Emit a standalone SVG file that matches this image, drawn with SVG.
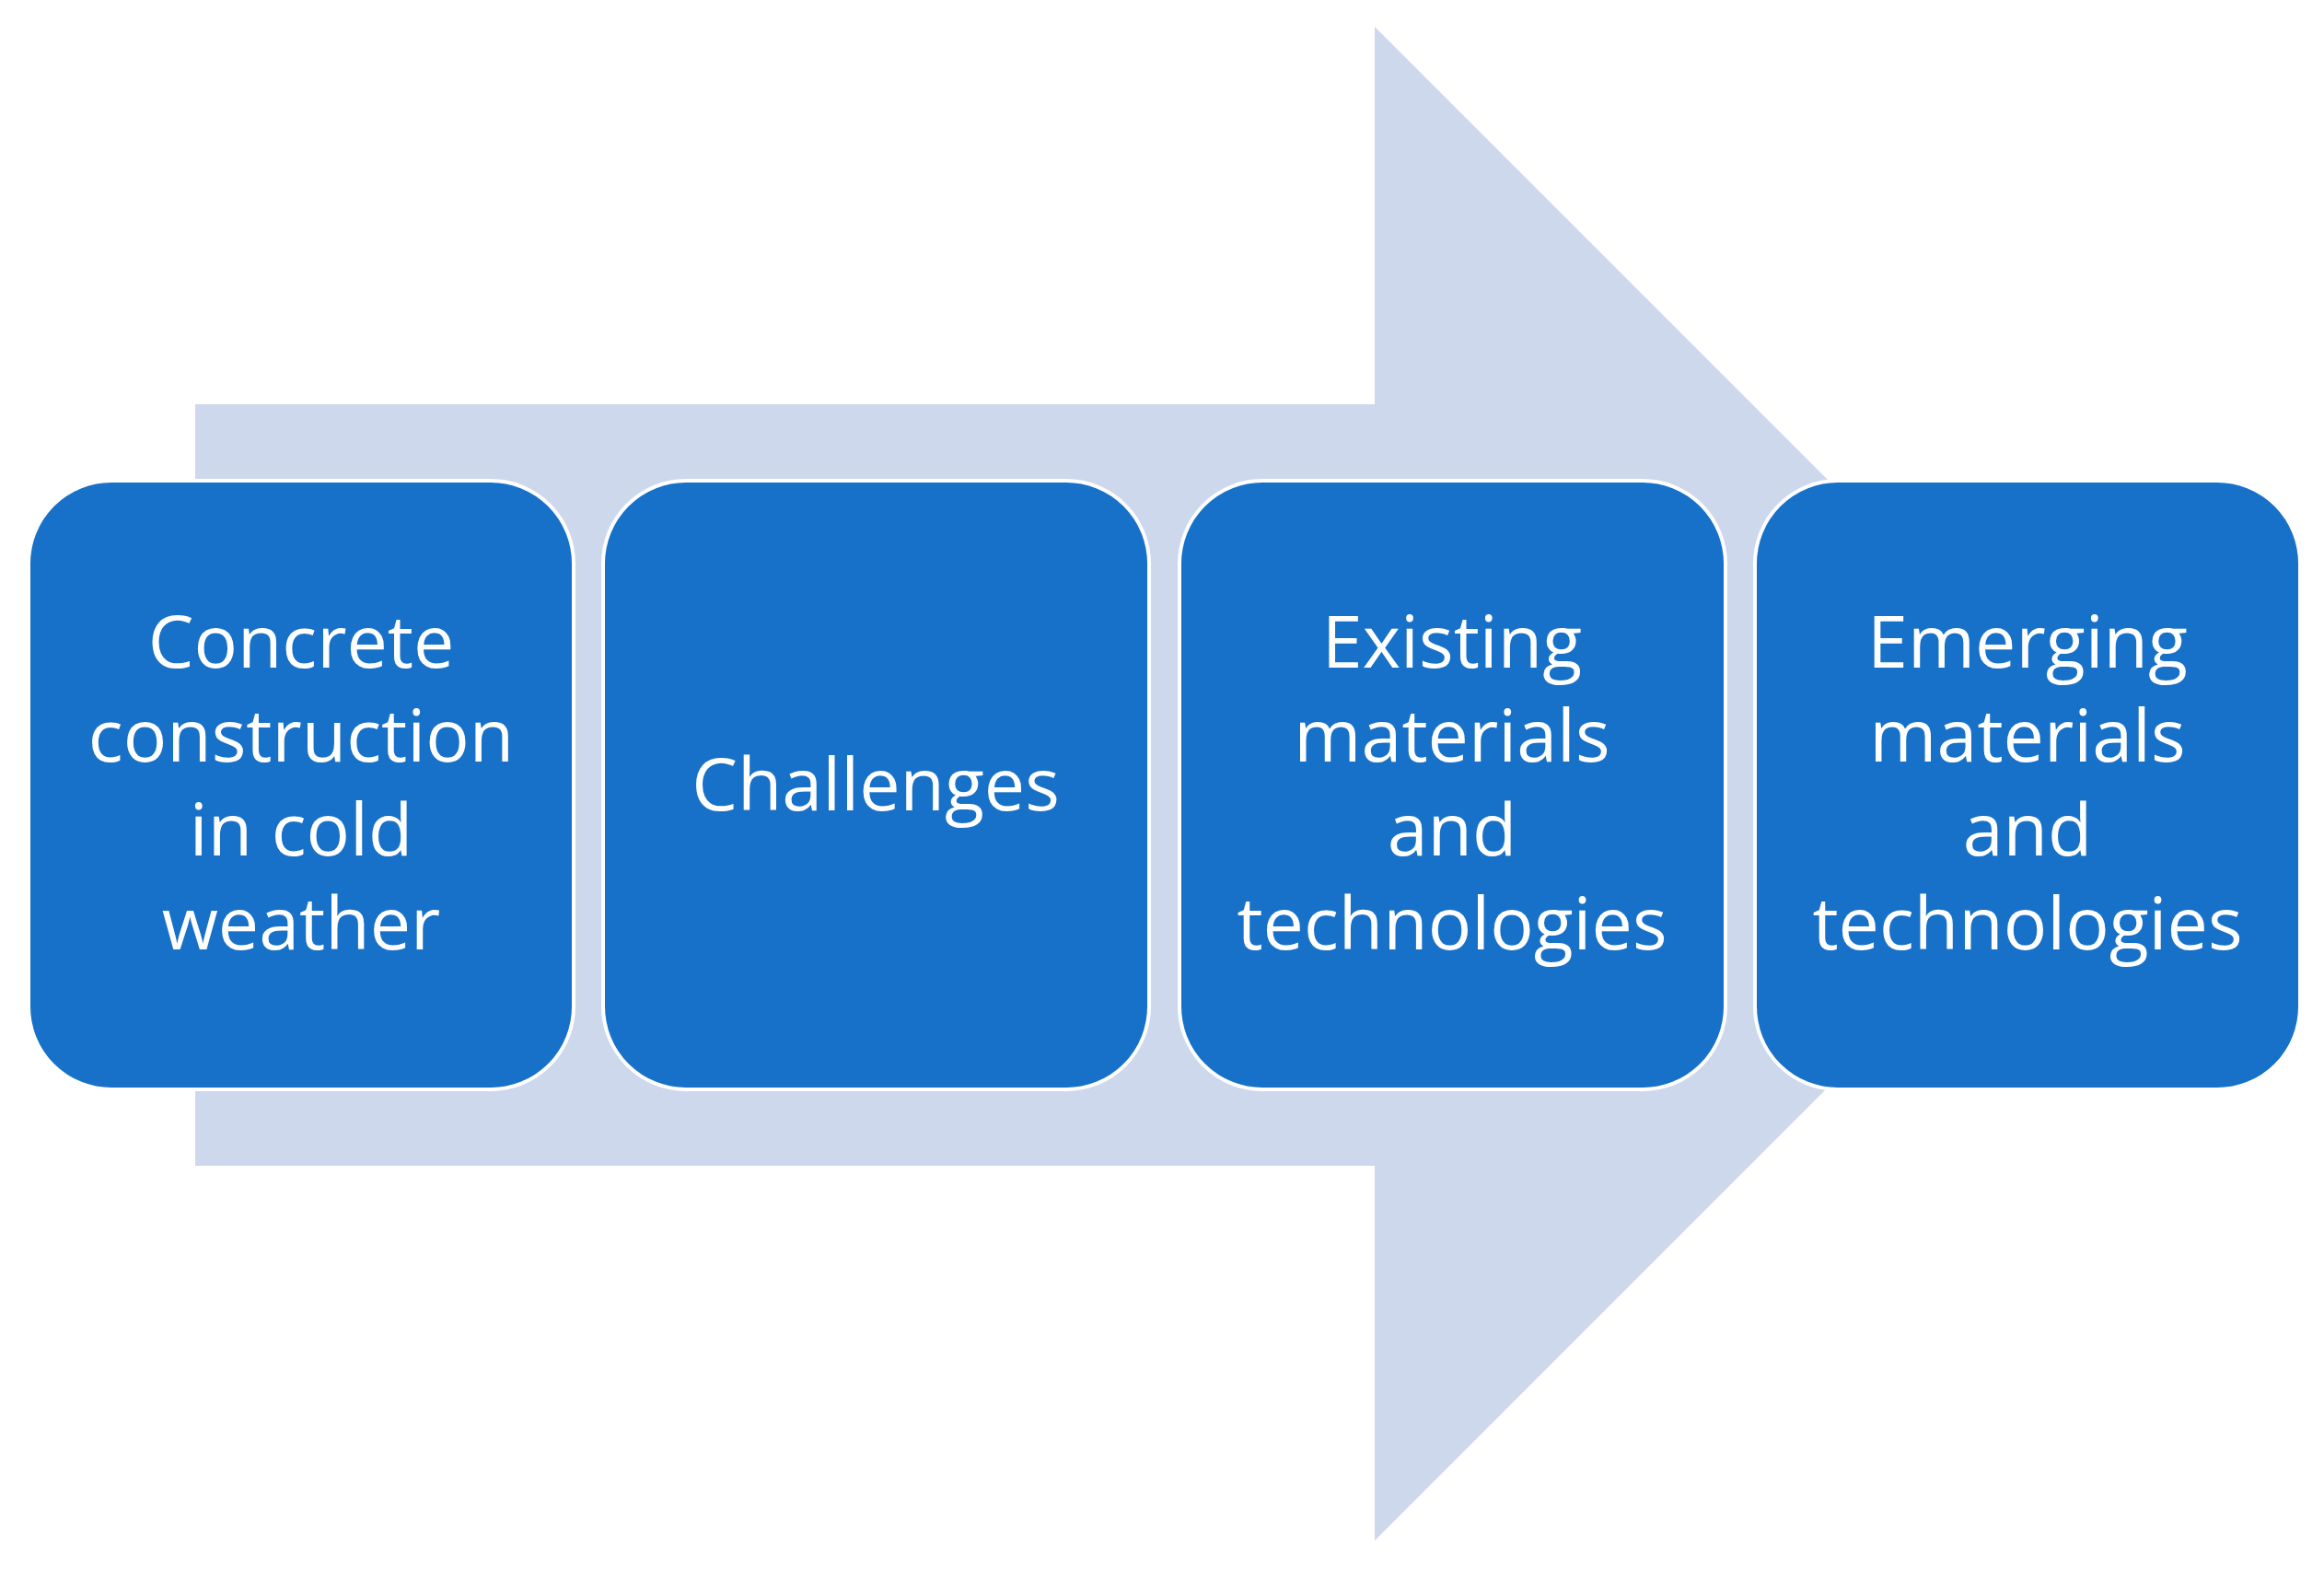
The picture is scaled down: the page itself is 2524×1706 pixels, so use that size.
<svg xmlns="http://www.w3.org/2000/svg" width="2524" height="1706" viewBox="0 0 2524 1706">
<style>
.box{fill:#1771C8;stroke:#FFFFFF;stroke-width:4}
.lbl{font-family:"Open Sans","Liberation Sans",sans-serif;font-size:79px;fill:#FFFFFF;text-anchor:middle}
</style>
<rect width="2524" height="1706" fill="#FFFFFF"/>
<g id="connectors">
<polygon id="big-arrow" points="212,439 1493,439 1493,29 2315,851 1493,1673 1493,1266 212,1266" fill="#CED8EC"/>
</g>
<g id="node1">
<rect class="box" x="31" y="522" width="592" height="661" rx="90" ry="90"/>
<text class="lbl" x="327" y="725">Concrete</text>
<text class="lbl" x="327" y="827">construction</text>
<text class="lbl" x="327" y="929">in cold</text>
<text class="lbl" x="327" y="1031">weather</text>
</g>
<g id="node2">
<rect class="box" x="655" y="522" width="593" height="661" rx="90" ry="90"/>
<text class="lbl" x="951" y="880">Challenges</text>
</g>
<g id="node3">
<rect class="box" x="1281" y="522" width="593" height="661" rx="90" ry="90"/>
<text class="lbl" x="1577" y="725">Existing</text>
<text class="lbl" x="1577" y="827">materials</text>
<text class="lbl" x="1577" y="929">and</text>
<text class="lbl" x="1577" y="1031">technologies</text>
</g>
<g id="node4">
<rect class="box" x="1906" y="522" width="592" height="661" rx="90" ry="90"/>
<text class="lbl" x="2202" y="725">Emerging</text>
<text class="lbl" x="2202" y="827">materials</text>
<text class="lbl" x="2202" y="929">and</text>
<text class="lbl" x="2202" y="1031">technologies</text>
</g>
</svg>
